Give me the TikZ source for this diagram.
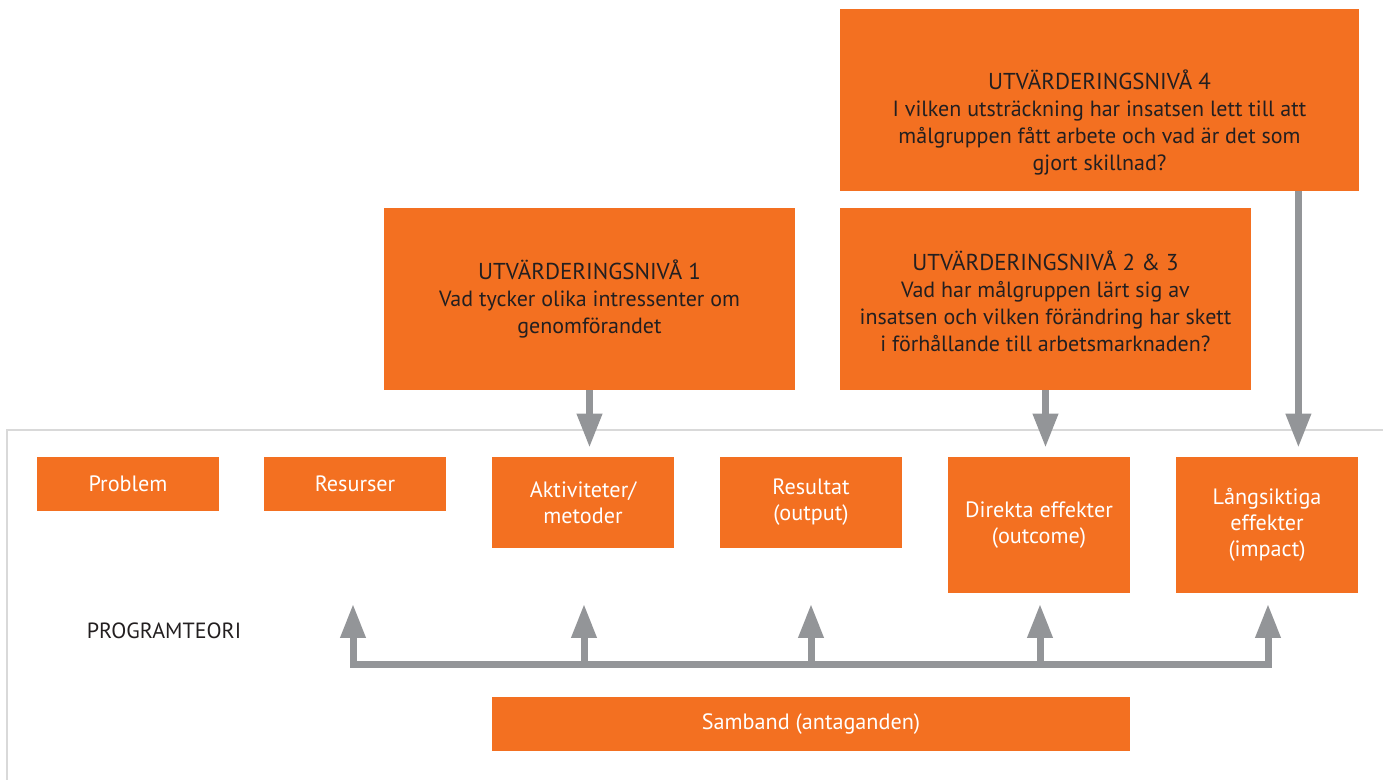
\documentclass[tikz,border=0pt]{standalone}
\usepackage{fontspec}
\setmainfont{PT Sans}
\usetikzlibrary{arrows.meta, positioning}
\definecolor{evalorange}{HTML}{F37021}
\definecolor{arrowgray}{HTML}{939598}
\definecolor{framegray}{HTML}{D9D9D9}
\definecolor{textdark}{HTML}{231F20}
\tikzset{> = { Triangle[width = 12pt, length = 17pt] }}
\tikzset{
	box/.style = { fill = evalorange, inner sep = 0pt, align = center, text = white,
		font = \fontsize{11.1}{13}\selectfont, minimum width = 91pt },
	levelbox/.style = { fill = evalorange, inner sep = 0pt, minimum height = 91pt },
	leveltext/.style = { align = center, text = textdark, font = \fontsize{11}{13.5}\selectfont },
	flow/.style = { draw = arrowgray, line width = 3.5pt },
}
\newcommand{\levelhead}[1]{{\fontsize{11.5}{13.5}\selectfont #1}}

\begin{document}
\begin{tikzpicture}[x = 0.5pt, y = -0.5pt]
	\useasboundingbox (0, 0) rectangle (1383, 780);

	% Frame round the programme theory.
	\draw [framegray, line width = 1pt] (1383, 430) to (7, 430) to (7, 780);

	% Evaluation levels.
	\node [levelbox, minimum width = 259.5pt] (un4) at (1099.5, 100) {};
	\node [leveltext] (un4text) at ([yshift = -11.5pt] un4.center)
		{\levelhead{UTVÄRDERINGSNIVÅ 4}\\I vilken utsträckning har insatsen lett till att\\målgruppen fått arbete och vad är det som\\gjort skillnad?};

	\node [levelbox, minimum width = 205.5pt] (un1) at (589.5, 299) {};
	\node [leveltext] (un1text) at (un1.center)
		{\levelhead{UTVÄRDERINGSNIVÅ 1}\\Vad tycker olika intressenter om\\genomförandet};

	\node [levelbox, minimum width = 205.5pt] (un23) at (1045.5, 299) {};
	\node [leveltext] (un23text) at ([yshift = -1pt] un23.center)
		{\levelhead{UTVÄRDERINGSNIVÅ 2 \& 3}\\Vad har målgruppen lärt sig av\\insatsen och vilken förändring har skett\\i förhållande till arbetsmarknaden?};

	% Programme theory.
	\node [box, minimum height = 27pt] (problem) at (128, 484) {Problem};
	\node [box, minimum height = 27pt] (resurser) at (355, 484) {Resurser};
	\node [box, minimum height = 45.5pt] (akt) at (583, 502.5) {Aktiviteter/\\metoder};
	\node [box, minimum height = 45.5pt] (res) at (811, 502.5) {Resultat\\(output)};
	\node [box, minimum height = 68pt] (dir) at (1039, 525) {Direkta effekter\\(outcome)};
	\node [box, minimum height = 68pt] (lang) at (1267, 525) {Långsiktiga\\effekter\\(impact)};
	\node [box, minimum height = 27pt, minimum width = 319pt] (samband) at (811, 724) {Samband (antaganden)};

	\node [text = textdark, font = \fontsize{11}{13}\selectfont] (pt) at (164, 631) {PROGRAMTEORI};

	% Arrows down from the levels.
	\draw [flow, ->, shorten > = 4.5pt] (un1.south) to (un1.south |- akt.north);
	\draw [flow, ->, shorten > = 4.5pt] (un23.south) to (un23.south |- dir.north);
	\coordinate (un4out) at ([xshift = -30.5pt] un4.south east);
	\draw [flow, ->, shorten > = 4.5pt] (un4out) to (un4out |- lang.north);

	% Arrows up from the links.
	\coordinate (top) at (0, 604);
	\coordinate (b1) at (353, 665);
	\coordinate (b2) at (584, 665);
	\coordinate (b3) at (811, 665);
	\coordinate (b4) at (1040, 665);
	\coordinate (b5) at (1268, 665);
	\draw [flow, line cap = rect] (b1) to (b5);
	\foreach \b in {b1, b2, b3, b4, b5}
		\draw [flow, ->] (\b) to (\b |- top);
\end{tikzpicture}
\end{document}
